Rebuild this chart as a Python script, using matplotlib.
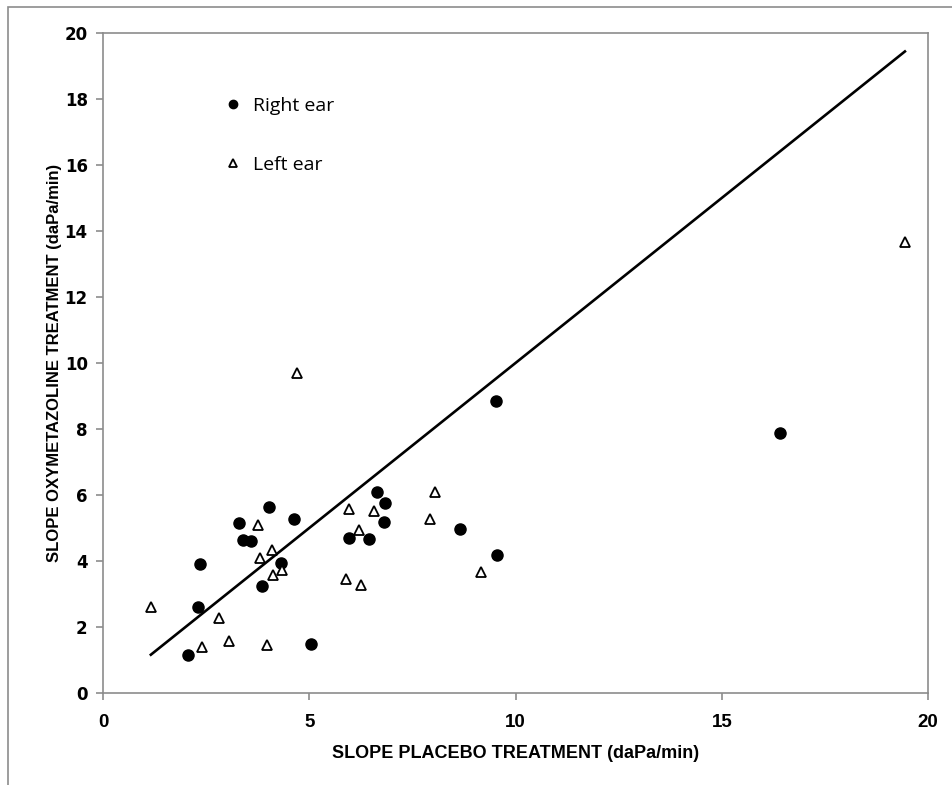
import matplotlib.pyplot as plt
from matplotlib.patches import Rectangle

# Right ear (filled circles)
right_x = [2.06, 2.30, 2.36, 3.30, 3.39, 3.58, 4.03, 3.86, 4.31, 4.63,
           5.05, 5.96, 6.46, 6.64, 6.84, 6.81, 8.65, 9.54, 9.52, 16.41]
right_y = [1.14, 2.60, 3.90, 5.14, 4.64, 4.60, 5.65, 3.24, 3.94, 5.28,
           1.48, 4.71, 4.67, 6.08, 5.75, 5.17, 4.98, 4.19, 8.86, 7.89]

# Left ear (open triangles)
left_x = [1.16, 2.39, 2.82, 3.05, 3.76, 3.81, 3.97, 4.10, 4.12, 4.33,
          4.71, 5.88, 5.96, 6.21, 6.26, 6.57, 7.92, 8.05, 9.16, 19.44]
left_y = [2.62, 1.39, 2.27, 1.58, 5.08, 4.10, 1.45, 4.33, 3.57, 3.73,
          9.69, 3.46, 5.58, 4.94, 3.26, 5.52, 5.27, 6.09, 3.66, 13.68]

# line of identity spanning the data range
all_x = right_x + left_x
line_x = [min(all_x), max(all_x)]
line_y = line_x

x_ticks = [0, 5, 10, 15, 20]
y_ticks = [0, 2, 4, 6, 8, 10, 12, 14, 16, 18, 20]

narrow = ['Liberation Sans', 'DejaVu Sans']

fig = plt.figure(figsize=(9.52, 7.85), dpi=100)
ax = fig.add_axes([0.1082, 0.1172, 0.8666, 0.8408])

# outer frame around the chart
fig.patches.append(Rectangle((8 / 952, -0.05), 1.1, 1.05 - 7 / 785,
                             transform=fig.transFigure, fill=False,
                             edgecolor='#8c8c8c', linewidth=1.2))

ax.plot(line_x, line_y, color='black', linewidth=1.9, zorder=2)
ax.plot(right_x, right_y, linestyle='none', marker='o', markersize=8,
        color='black', label='Right ear', zorder=3)
ax.plot(left_x, left_y, linestyle='none', marker='^', markersize=7,
        markerfacecolor='white', markeredgecolor='black',
        markeredgewidth=1.3, label='Left ear', zorder=3)

ax.set_xlim(0, 20)
ax.set_ylim(0, 20)
ax.set_xticks(x_ticks)
ax.set_yticks(y_ticks)
ax.set_xticklabels([str(t) for t in x_ticks], family=narrow,
                   fontweight='bold', fontsize=13.5)
ax.set_yticklabels([str(t) for t in y_ticks], family='DejaVu Sans',
                   fontweight='bold', fontsize=12)
ax.tick_params(direction='out', length=5, color='#8c8c8c', width=1.2)
ax.tick_params(axis='x', pad=10)
ax.tick_params(axis='y', pad=6)
for s in ax.spines.values():
    s.set_color('#8c8c8c')
    s.set_linewidth(1.2)

ax.set_xlabel('SLOPE PLACEBO TREATMENT (daPa/min)', family=narrow,
              fontweight='bold', fontsize=13, labelpad=10)
ax.set_ylabel('SLOPE OXYMETAZOLINE TREATMENT (daPa/min)', family=narrow,
              fontweight='bold', fontsize=12, labelpad=2)

leg = ax.legend(loc='upper left', bbox_to_anchor=(0.123, 0.93),
                frameon=False, labelspacing=2.1, handletextpad=0.5,
                handlelength=1.1, markerscale=0.75,
                prop={'family': 'Open Sans', 'size': 14})

fig.savefig('out.png', dpi=100)
